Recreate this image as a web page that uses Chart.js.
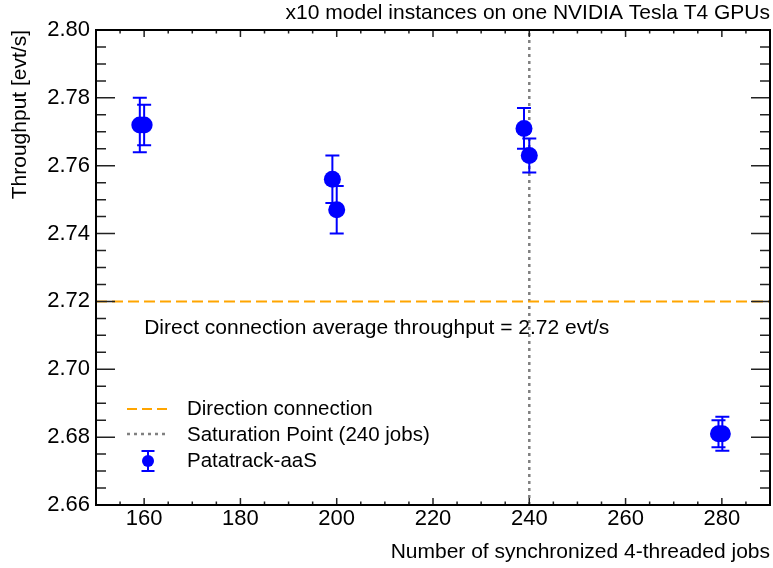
<!DOCTYPE html>
<html lang="en">
<head>
<meta charset="UTF-8">
<title>Patatrack-aaS throughput</title>
<script src="https://cdn.jsdelivr.net/npm/chart.js"></script>
<style>
  html, body { margin: 0; padding: 0; background: #fff; }
</style>
</head>
<body>
<canvas id="chart" width="773" height="568"></canvas>
<script>
// data
const jobs = [159.1, 160, 199.1, 200, 238.9, 240, 279.3, 280.1];
const throughput = [2.772, 2.772, 2.756, 2.747, 2.771, 2.763, 2.681, 2.681];
const throughputErr = [0.008, 0.006, 0.007, 0.007, 0.006, 0.005, 0.004, 0.005];
const directAverage = 2.72;
const saturationJobs = 240;
const xTicks = [160, 180, 200, 220, 240, 260, 280];
const yTicks = [2.66, 2.68, 2.70, 2.72, 2.74, 2.76, 2.78, 2.80];
const xRange = [150, 290];
const yRange = [2.66, 2.80];

const BLUE = '#0000ff';
const ORANGE = '#ffa500';
const GREY = '#808080';
const FONT = '"Liberation Sans", Arial, Helvetica, sans-serif';

// error bars under the markers
const errorBars = {
  id: 'errorBars',
  beforeDatasetDraw(chart, args) {
    if (args.index !== 0) return;
    const { ctx, scales: { x, y } } = chart;
    ctx.save();
    ctx.strokeStyle = BLUE;
    ctx.lineWidth = 2;
    jobs.forEach((j, i) => {
      const px = x.getPixelForValue(j);
      const top = y.getPixelForValue(throughput[i] + throughputErr[i]);
      const bot = y.getPixelForValue(throughput[i] - throughputErr[i]);
      ctx.beginPath();
      ctx.moveTo(px, top); ctx.lineTo(px, bot);
      ctx.moveTo(px - 7, top); ctx.lineTo(px + 7, top);
      ctx.moveTo(px - 7, bot); ctx.lineTo(px + 7, bot);
      ctx.stroke();
    });
    ctx.restore();
  }
};

// box + inward ticks on all four sides
const frame = {
  id: 'frame',
  afterDatasetsDraw(chart) {
    const { ctx, chartArea: a, scales: { x, y } } = chart;
    ctx.save();
    ctx.strokeStyle = '#222';
    ctx.lineWidth = 1.5;
    ctx.beginPath();
    for (let v = xRange[0]; v <= xRange[1]; v += 5) {
      const len = v % 20 === 0 ? 7 : 3.5;
      const px = x.getPixelForValue(v);
      ctx.moveTo(px, a.bottom); ctx.lineTo(px, a.bottom - len);
      ctx.moveTo(px, a.top); ctx.lineTo(px, a.top + len);
    }
    for (let k = 0; k <= 28; k++) {
      const v = yRange[0] + k * 0.005;
      const len = k % 4 === 0 ? 19 : 10;
      const py = y.getPixelForValue(v);
      ctx.moveTo(a.left, py); ctx.lineTo(a.left + len, py);
      ctx.moveTo(a.right, py); ctx.lineTo(a.right - len, py);
    }
    ctx.stroke();
    ctx.strokeStyle = '#000';
    ctx.lineWidth = 2;
    ctx.strokeRect(a.left, a.top, a.right - a.left, a.bottom - a.top);
    ctx.restore();
  }
};

// legend box and the annotation text
const notes = {
  id: 'notes',
  afterDraw(chart) {
    const { ctx, scales: { x, y } } = chart;
    ctx.save();
    ctx.font = '21px ' + FONT;
    ctx.fillStyle = '#000';
    ctx.textBaseline = 'middle';
    ctx.textAlign = 'left';
    ctx.fillText('Direct connection average throughput = 2.72 evt/s',
      x.getPixelForValue(160), y.getPixelForValue(2.712));

    // legend
    const lx0 = 127, lx1 = 167, tx = 187;
    ctx.lineWidth = 2;
    ctx.strokeStyle = ORANGE;
    ctx.setLineDash([10, 5]);
    ctx.beginPath(); ctx.moveTo(lx0, 409); ctx.lineTo(lx1, 409); ctx.stroke();
    ctx.strokeStyle = GREY;
    ctx.lineWidth = 2.5;
    ctx.setLineDash([3, 4]);
    ctx.beginPath(); ctx.moveTo(lx0, 434); ctx.lineTo(lx1, 434); ctx.stroke();
    ctx.setLineDash([]);
    ctx.strokeStyle = BLUE;
    ctx.lineWidth = 2;
    const mx = 148, my = 461;
    ctx.beginPath();
    ctx.moveTo(mx, my - 10); ctx.lineTo(mx, my + 10);
    ctx.moveTo(mx - 6.5, my - 10); ctx.lineTo(mx + 6.5, my - 10);
    ctx.moveTo(mx - 6.5, my + 10); ctx.lineTo(mx + 6.5, my + 10);
    ctx.stroke();
    ctx.fillStyle = BLUE;
    ctx.beginPath(); ctx.arc(mx, my, 6, 0, Math.PI * 2); ctx.fill();

    ctx.fillStyle = '#000';
    ctx.font = '20.5px ' + FONT;
    ctx.fillText('Direction connection', tx, 409);
    ctx.fillText('Saturation Point (240 jobs)', tx, 435);
    ctx.fillText('Patatrack-aaS', tx, 461);
    ctx.restore();
  }
};

new Chart(document.getElementById('chart'), {
  type: 'scatter',
  data: {
    datasets: [
      {
        label: 'Patatrack-aaS',
        data: jobs.map((j, i) => ({ x: j, y: throughput[i] })),
        pointRadius: 8.5,
        pointHoverRadius: 8.5,
        backgroundColor: BLUE,
        borderWidth: 0
      },
      {
        label: 'Direction connection',
        type: 'line',
        data: [{ x: xRange[0], y: directAverage }, { x: xRange[1], y: directAverage }],
        borderColor: ORANGE,
        borderWidth: 2,
        borderDash: [11, 5],
        pointRadius: 0
      },
      {
        label: 'Saturation Point (240 jobs)',
        type: 'line',
        data: [{ x: saturationJobs, y: yRange[0] }, { x: saturationJobs, y: yRange[1] }],
        borderColor: GREY,
        borderWidth: 2.5,
        borderDash: [3, 4],
        pointRadius: 0
      }
    ]
  },
  options: {
    responsive: false,
    animation: false,
    layout: { autoPadding: false, padding: { left: 0, right: 3, top: 0, bottom: 0 } },
    plugins: {
      legend: { display: false },
      tooltip: { enabled: false },
      title: {
        display: true,
        text: 'x10 model instances on one NVIDIA Tesla T4 GPUs',
        align: 'end',
        color: '#000',
        font: { family: FONT, size: 21, weight: 'normal' },
        padding: { top: 1, bottom: 3.8 }
      }
    },
    scales: {
      x: {
        type: 'linear',
        min: xRange[0],
        max: xRange[1],
        afterBuildTicks: s => { s.ticks = xTicks.map(v => ({ value: v })); },
        afterFit: s => { s.height = 63; s.paddingLeft = 0; s.paddingRight = 0; },
        grid: { display: false, drawTicks: false },
        border: { display: false },
        ticks: {
          color: '#000',
          padding: 1,
          maxRotation: 0,
          font: { family: FONT, size: 22 },
          callback: v => String(v)
        },
        title: {
          display: true,
          text: 'Number of synchronized 4-threaded jobs',
          align: 'end',
          color: '#000',
          font: { family: FONT, size: 21 },
          padding: { top: 0, bottom: 3 }
        }
      },
      y: {
        type: 'linear',
        min: yRange[0],
        max: yRange[1],
        afterBuildTicks: s => { s.ticks = yTicks.map(v => ({ value: v })); },
        afterFit: s => { s.width = 96; s.paddingTop = 0; s.paddingBottom = 0; },
        grid: { display: false, drawTicks: false },
        border: { display: false },
        ticks: {
          color: '#000',
          padding: 6,
          font: { family: FONT, size: 22 },
          callback: v => Number(v).toFixed(2)
        },
        title: {
          display: true,
          text: 'Throughput [evt/s]',
          align: 'end',
          color: '#000',
          font: { family: FONT, size: 21 },
          padding: { top: 8, bottom: 0 }
        }
      }
    }
  },
  plugins: [errorBars, frame, notes]
});
</script>
</body>
</html>
